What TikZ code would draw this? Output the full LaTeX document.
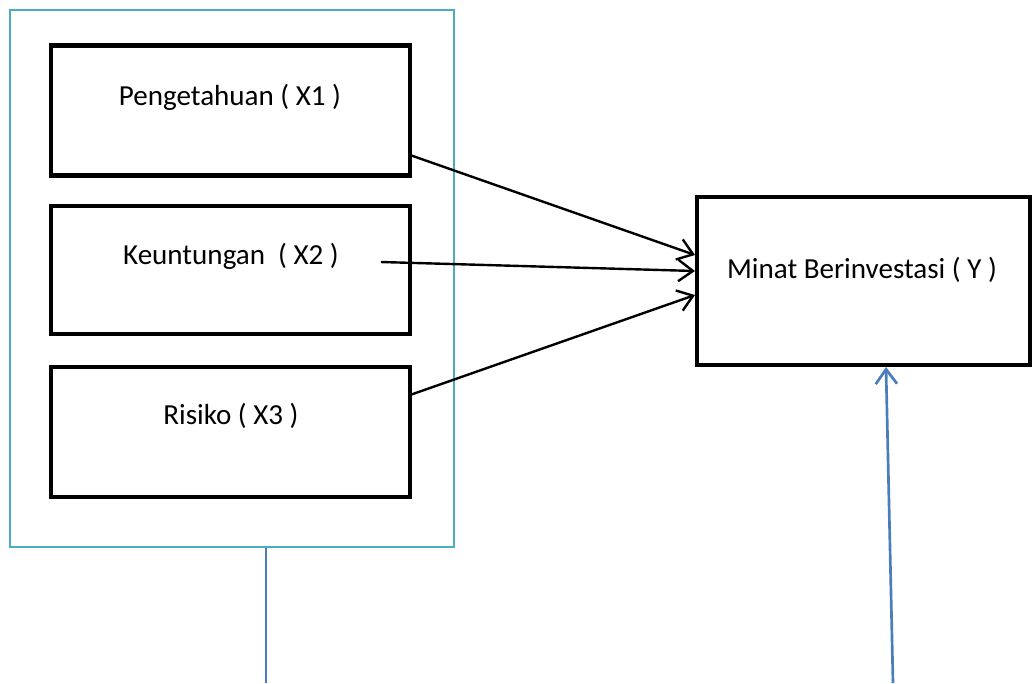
\documentclass[tikz,border=0pt]{standalone}
\usepackage{fontspec}
\setmainfont{Carlito}
\usetikzlibrary{arrows.meta}
\definecolor{boxcyan}{HTML}{4BACC6}
\definecolor{lineblue}{HTML}{4A7EBB}
\begin{document}
\begin{tikzpicture}[x=0.75pt,y=-0.75pt,
  varbox/.style={draw=black,line width=3.3pt,minimum width=359*0.75pt,minimum height=130*0.75pt,inner sep=0pt},
  lbl/.style={font=\fontsize{21.8}{25}\selectfont,inner sep=0pt},
  arr/.style={line width=1.8pt,-{Straight Barb[length=11pt,width=16pt,line width=1.8pt]}},
  barr/.style={draw=lineblue,line width=2pt,-{Straight Barb[length=11pt,width=16pt,line width=2pt]}}]
\useasboundingbox (0,0) rectangle (1036,683);
\node[draw=boxcyan,line width=1.5pt,minimum width=444*0.75pt,minimum height=537*0.75pt,inner sep=0pt] (outer) at (232,278.5) {};
\node[varbox] (x1) at (230.5,110.5) {};
\node[varbox,minimum height=128*0.75pt] (x2) at (230.5,270) {};
\node[varbox] (x3) at (230.5,432) {};
\node[varbox,minimum width=333*0.75pt,minimum height=168*0.75pt] (y) at (863.5,281) {};
\node[lbl] (t1) at (230,97) {Pengetahuan ( X1 )};
\node[lbl] (t2) at (231,256) {Keuntungan\ \ ( X2 )};
\node[lbl] (t3) at (231,416) {Risiko ( X3 )};
\node[lbl] (ty) at (862,270) {Minat Berinvestasi ( Y )};
\coordinate (a1s) at (410,155);
\coordinate (a2s) at (381,262);
\coordinate (a3s) at (410,395);
\coordinate (a1e) at (695,255);
\coordinate (a2e) at (695,271);
\coordinate (a3e) at (695,295);
\draw[arr] (a1s) -- (a1e);
\draw[arr] (a2s) -- (a2e);
\draw[arr] (a3s) -- (a3e);
\coordinate (b1) at (266,683);
\draw[draw=lineblue,line width=2pt] (outer.south -| b1) -- (b1);
\coordinate (b2) at (893,683);
\coordinate (b2e) at (886,367);
\draw[barr] (b2) -- (b2e);
\end{tikzpicture}
\end{document}
